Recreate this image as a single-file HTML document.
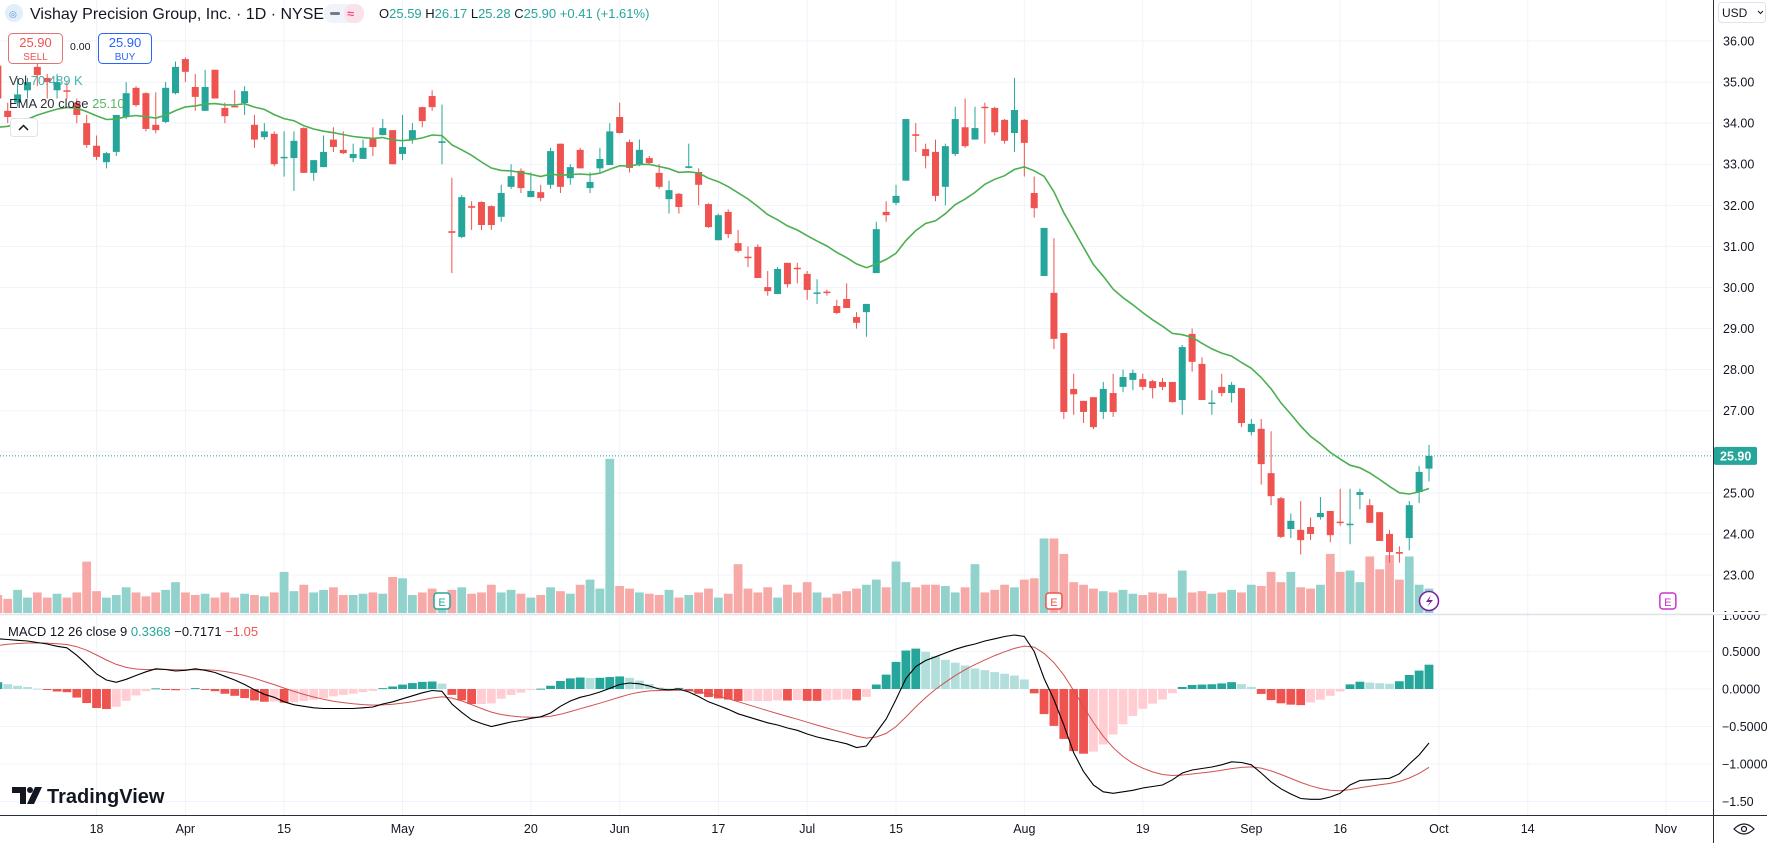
<!DOCTYPE html>
<html><head><meta charset="utf-8">
<style>
html,body{margin:0;padding:0;background:#fff;}
svg{display:block;font-family:"Liberation Sans",sans-serif;}
</style></head>
<body>
<svg id="chart" width="1767" height="843" viewBox="0 0 1767 843" xmlns="http://www.w3.org/2000/svg">
<rect x="0" y="0" width="1767" height="843" fill="#ffffff"/>
<g id="grid"></g>
<g id="volume"></g>
<g id="candles"></g>
<g id="ema"></g>
<g id="macd"></g>
<g id="axes"></g>

<!-- header -->
<g>
  <circle cx="14" cy="13" r="9" fill="#e3eefb"/>
  <text x="9" y="17" font-size="9" fill="#5b8fd6">◎</text>
  <text x="30" y="19" font-size="16" fill="#131722">Vishay Precision Group, Inc. · 1D · NYSE</text>
  <rect x="324" y="4" width="40" height="19" rx="9" fill="#f0f3fa"/>
  <rect x="344" y="4" width="20" height="19" rx="9" fill="#fbe1ea"/>
  <rect x="330" y="12" width="10" height="3" rx="1.5" fill="#787b86"/>
  <text x="347" y="18" font-size="13" fill="#e91e63">≈</text>
  <text x="379" y="18" font-size="13" fill="#131722">O<tspan fill="#26a69a">25.59</tspan> H<tspan fill="#26a69a">26.17</tspan> L<tspan fill="#26a69a">25.28</tspan> C<tspan fill="#26a69a">25.90</tspan> <tspan fill="#26a69a">+0.41 (+1.61%)</tspan></text>
</g>
<g>
  <rect x="8.5" y="33.5" width="54" height="30" rx="4" fill="#fff" stroke="#e57373"/>
  <text x="35.5" y="47" font-size="13" fill="#ef5350" text-anchor="middle">25.90</text>
  <text x="35.5" y="60" font-size="10" fill="#ef5350" text-anchor="middle">SELL</text>
</g>
<text x="70" y="50" font-size="10.5" fill="#131722">0.00</text>
<g>
  <rect x="98.5" y="33.5" width="53" height="30" rx="4" fill="#fff" stroke="#2962ff"/>
  <text x="125" y="47" font-size="13" fill="#2962ff" text-anchor="middle">25.90</text>
  <text x="125" y="60" font-size="10" fill="#2962ff" text-anchor="middle">BUY</text>
</g>
<text x="9" y="85" font-size="13" fill="#131722" opacity="0.85">Vol <tspan fill="#26a69a">70.489 K</tspan></text>
<text x="9" y="108" font-size="13" fill="#131722" opacity="0.9">EMA 20 close <tspan fill="#4caf50">25.10</tspan></text>
<g>
  <rect x="10.5" y="118.5" width="27" height="18" rx="3" fill="#fff" stroke="#e0e3eb"/>
  <path d="M19 130 L23.5 125.5 L28 130" fill="none" stroke="#131722" stroke-width="1.5"/>
</g>
<text x="8" y="636" font-size="13" fill="#131722">MACD 12 26 close 9 <tspan fill="#26a69a">0.3368</tspan> <tspan fill="#131722">−0.7171</tspan> <tspan fill="#ef5350">−1.05</tspan></text>
<g>
  <path d="M12 787 H26 V804 H20 V793 H12 Z" fill="#131722"/>
  <circle cx="30" cy="790" r="3" fill="#131722"/>
  <path d="M35 787 H42 L34 804 H27 Z" fill="#131722"/>
  <text x="47" y="803" font-size="20" font-weight="bold" fill="#131722">TradingView</text>
</g>
<g>
  <rect x="1718.5" y="2.5" width="47" height="20" rx="3" fill="#fff" stroke="#e0e3eb"/>
  <text x="1722" y="17" font-size="12" fill="#131722">USD</text>
  <path d="M1758 11 l2.5 2.5 l2.5 -2.5" fill="none" stroke="#131722"/>
</g>
<g>
  <path d="M1734 829 Q1744 819 1754 829 Q1744 839 1734 829 Z" fill="none" stroke="#131722" stroke-width="1.2"/>
  <circle cx="1744" cy="829" r="2.5" fill="none" stroke="#131722" stroke-width="1.2"/>
</g>

<script>
// ---- data ----
const opens  = [35.4,34.3,34.5,34.8,35.37,35.1,34.8,34.8,34.5,34.0,33.45,33.05,33.3,34.15,34.86,34.73,33.96,34.03,34.73,35.56,34.88,34.3,35.3,34.37,34.42,34.49,33.96,33.66,33.74,33.15,33.15,33.88,32.79,32.93,33.6,33.35,33.15,33.13,33.64,33.71,33.83,33.25,33.6,34.39,34.66,33.52,31.37,31.23,31.98,32.08,31.98,31.72,32.45,32.84,32.2,32.32,32.5,33.5,32.66,33.35,32.42,32.9,32.98,34.15,33.54,32.98,33.15,32.79,32.15,32.28,32.91,32.81,32.03,31.15,31.84,31.08,30.75,30.99,30.01,29.84,30.6,30.48,30.33,29.86,29.9,29.55,29.72,29.28,29.4,30.35,31.84,32.06,32.6,33.73,33.37,33.3,32.45,33.25,33.9,33.6,34.4,34.37,34.08,33.76,34.08,32.3,30.28,29.87,28.89,27.53,27.24,27.33,26.97,27.43,27.58,27.75,27.77,27.72,27.7,27.7,27.26,28.87,28.14,27.18,27.58,27.43,27.55,26.48,26.56,25.48,24.87,24.12,24.1,24.17,24.41,24.56,24.3,24.23,24.95,24.7,24.53,24.0,23.56,23.9,25.02,25.59];
const highs  = [35.6,34.5,35.1,35.1,35.5,35.2,35.2,35.0,34.6,34.2,33.7,33.3,34.2,35.0,34.9,34.75,34.75,35.0,35.5,35.6,35.2,35.3,35.3,34.5,34.8,34.9,34.2,34.0,33.8,33.8,33.8,33.9,33.1,33.7,33.9,33.8,33.5,33.6,33.9,34.1,33.83,34.2,34.0,34.4,34.8,34.45,32.67,32.25,32.1,32.1,32.0,32.5,33.0,32.9,32.8,32.5,33.4,33.5,33.0,33.4,32.8,33.4,34.0,34.5,33.6,33.6,33.2,33.0,32.6,32.3,33.5,32.9,32.05,31.8,31.9,31.4,31.0,31.05,30.4,30.5,30.6,30.6,30.4,30.2,29.95,29.7,30.1,29.4,29.6,31.6,32.1,32.5,34.1,34.0,33.5,33.6,33.5,34.4,34.6,34.4,34.5,34.4,34.1,35.1,34.1,32.7,31.45,31.2,28.89,27.9,27.24,27.33,27.7,27.9,28.0,28.0,27.9,27.75,27.8,27.7,28.6,29.0,28.3,27.5,27.9,27.7,27.55,26.8,26.8,26.5,24.9,24.5,24.8,24.4,24.9,24.56,25.1,25.1,25.1,24.85,24.53,24.1,23.7,24.8,25.65,26.17];
const lows   = [34.4,34.0,34.4,34.6,34.9,34.6,34.6,34.6,34.0,33.4,33.1,32.9,33.2,34.1,34.4,33.8,33.75,34.0,34.7,35.0,34.3,34.3,34.6,34.0,34.4,34.2,33.4,33.6,32.95,32.7,32.35,32.79,32.6,32.93,33.3,33.25,33.05,33.13,33.2,33.7,33.0,33.1,33.5,33.9,34.3,33.0,30.35,31.2,31.4,31.4,31.4,31.6,32.4,32.3,32.2,32.1,32.4,32.3,32.5,32.9,32.3,32.8,32.98,33.75,32.8,32.95,33.0,32.4,31.8,31.8,32.9,32.0,31.45,31.15,31.2,30.85,30.5,30.23,29.8,29.84,30.0,30.1,29.7,29.6,29.8,29.35,29.5,29.0,28.8,30.35,31.6,32.0,32.6,33.3,32.9,32.1,32.0,33.2,33.4,33.6,33.5,33.7,33.5,33.3,32.7,31.7,30.28,28.5,26.8,26.9,26.7,26.55,26.8,26.85,27.45,27.5,27.5,27.3,27.5,27.2,26.9,27.95,27.26,26.9,27.35,27.2,26.6,26.4,25.2,24.7,23.9,23.9,23.5,23.85,24.35,23.8,24.2,23.75,24.6,24.27,23.83,23.3,23.3,23.6,24.75,25.28];
const closes = [34.6,34.15,34.7,35.0,35.17,35.0,35.0,34.78,34.2,33.47,33.18,33.27,34.2,34.73,34.44,33.86,33.83,34.86,35.37,35.25,34.64,34.88,34.6,34.17,34.4,34.78,33.6,33.8,33.0,33.18,33.57,32.79,33.1,33.3,33.42,33.27,33.25,33.4,33.42,33.88,33.0,33.42,33.83,34.05,34.39,33.56,31.33,32.2,31.94,31.52,31.52,32.3,32.71,32.42,32.35,32.18,33.32,32.45,32.93,32.9,32.57,33.13,33.8,33.76,32.91,33.35,33.03,32.45,32.37,31.96,32.95,32.5,31.47,31.76,31.3,30.89,30.72,30.23,29.91,30.45,30.08,30.46,29.94,29.88,29.88,29.38,29.5,29.14,29.6,31.42,31.76,32.23,34.1,33.69,33.2,32.23,33.44,34.1,33.44,33.88,34.38,33.78,33.57,34.32,33.52,31.93,31.45,28.75,26.97,27.4,26.97,26.6,27.53,26.97,27.82,27.92,27.58,27.55,27.58,27.21,28.55,28.19,27.26,27.2,27.43,27.63,26.7,26.68,25.7,24.92,23.93,24.32,23.85,24.0,24.51,23.97,24.28,24.25,25.02,24.27,23.83,23.56,23.52,24.7,25.51,25.90];
const volumesK = [70,55,90,60,80,60,75,60,80,200,85,60,70,100,80,65,80,90,120,80,70,75,60,80,60,75,70,65,80,160,85,110,80,90,100,70,70,75,80,75,140,135,70,80,95,70,90,100,75,80,110,80,90,75,60,70,100,85,75,110,130,95,600,105,95,80,75,70,90,60,70,80,95,60,75,190,95,80,100,60,110,80,120,80,60,75,85,95,110,130,100,200,120,100,110,110,105,80,100,190,80,90,110,100,130,135,290,290,230,120,110,95,85,80,90,75,70,80,75,60,165,80,85,75,80,90,80,110,105,160,120,160,100,95,110,230,160,165,120,220,170,225,130,220,110,95];
const macdLine = [0.67,0.66,0.65,0.64,0.62,0.60,0.57,0.55,0.45,0.33,0.20,0.12,0.09,0.13,0.18,0.23,0.27,0.26,0.24,0.25,0.27,0.25,0.22,0.17,0.12,0.06,-0.01,-0.07,-0.11,-0.17,-0.21,-0.23,-0.25,-0.26,-0.26,-0.26,-0.26,-0.25,-0.24,-0.20,-0.17,-0.13,-0.09,-0.05,-0.02,-0.03,-0.20,-0.31,-0.41,-0.46,-0.50,-0.47,-0.44,-0.42,-0.39,-0.37,-0.32,-0.23,-0.16,-0.11,-0.08,-0.04,0.01,0.06,0.08,0.07,0.04,0.00,-0.01,0.00,-0.04,-0.10,-0.17,-0.22,-0.27,-0.33,-0.37,-0.41,-0.45,-0.48,-0.52,-0.55,-0.60,-0.64,-0.67,-0.70,-0.73,-0.78,-0.76,-0.58,-0.40,-0.14,0.14,0.30,0.38,0.43,0.48,0.53,0.57,0.60,0.64,0.67,0.70,0.72,0.70,0.50,0.14,-0.14,-0.48,-0.85,-1.10,-1.28,-1.37,-1.39,-1.37,-1.35,-1.32,-1.30,-1.28,-1.21,-1.12,-1.08,-1.06,-1.04,-1.01,-0.97,-0.98,-1.01,-1.12,-1.24,-1.33,-1.40,-1.46,-1.47,-1.47,-1.44,-1.39,-1.28,-1.22,-1.21,-1.20,-1.19,-1.13,-1.00,-0.88,-0.72];
const priceTicks = [36,35,34,33,32,31,30,29,28,27,26,25,24,23];
const macdTicks = [1.0,0.5,0.0,-0.5,-1.0,-1.5];
const macdTickLabels = ["1.0000","0.5000","0.0000","−0.5000","−1.0000","−1.50"];
const timeLabels = ["18","Apr","15","May","20","Jun","17","Jul","15","Aug","19","Sep","16","Oct","14","Nov"];
const timeLabelIdx = [10,19,29,41,54,63,73,82,91,104,116,127,136,146,155,169];
const emaSeed = 33.9;
const signalSeed = 0.58;
const lastPrice = 25.90;

// ---- scales ----
const NS = "http://www.w3.org/2000/svg";
const plotRight = 1713;
const barStep = 9.87;
const lastIdx = closes.length - 1;
function xOf(i){ return 1429 - (lastIdx - i) * barStep; }
function yP(p){ return 41 + (36 - p) * 41.08; }
function yM(v){ return 689 - v * 75; }
const volBase = 613, volScale = 0.257;
function el(tag, attrs, parent){ const e = document.createElementNS(NS, tag); for (const k in attrs) e.setAttribute(k, attrs[k]); parent.appendChild(e); return e; }

const grid = document.getElementById('grid');
priceTicks.forEach(p => {
  const l = el('line', {x1:0, x2:plotRight, y1:yP(p), y2:yP(p), stroke:'#f0f3fa', 'stroke-width':1}, grid);
  
  
});
macdTicks.forEach(v => {
  const l = el('line', {x1:0, x2:plotRight, y1:yM(v), y2:yM(v), stroke:'#f0f3fa', 'stroke-width':1}, grid);
  
  
});
timeLabelIdx.forEach(i => {
  const l = el('line', {x1:xOf(i), x2:xOf(i), y1:0, y2:815, stroke:'#f0f3fa', 'stroke-width':1}, grid);
  
  
});

// volume
const vg = document.getElementById('volume');
volumesK.forEach((v, i) => {
  const up = closes[i] >= opens[i];
  const h = v * volScale;
  const r = el('rect', {x:xOf(i)-4.4, y:volBase-h, width:8.8, height:h, fill: up ? '#92d2cc' : '#f7a9a7'}, vg);
  
  
});

// candles
const cg = document.getElementById('candles');
closes.forEach((c, i) => {
  const o = opens[i], up = c >= o, col = up ? '#26a69a' : '#ef5350';
  const x = xOf(i);
  const g = el('g', {}, cg);
  
  
  el('line', {x1:x, x2:x, y1:yP(highs[i]), y2:yP(lows[i]), stroke:col, 'stroke-width':1}, g);
  const top = yP(Math.max(o,c)), bot = yP(Math.min(o,c));
  el('rect', {x:x-3.5, y:top, width:7, height:Math.max(1.5, bot-top), fill:col}, g);
});

// EMA 20
const eg = document.getElementById('ema');
let ema = emaSeed; const emaPts = [];
closes.forEach((c, i) => { if (i > 0) ema = ema + (2/21) * (c - ema); emaPts.push(xOf(i).toFixed(1) + ',' + yP(ema).toFixed(1)); });
const emaPath = el('polyline', {points: emaPts.join(' '), fill:'none', stroke:'#4caf50', 'stroke-width':1.6}, eg);



// markers
function marker(i, color, label){
  const g = el('g', {}, vg);
  
  
  el('rect', {x:xOf(i)-8, y:593, width:16, height:16, rx:3, fill:'#fff', stroke:color, 'stroke-width':1.5}, g);
  const t = el('text', {x:xOf(i), y:606, 'font-size':11, fill:color, 'text-anchor':'middle'}, g);
  t.textContent = label;
}
marker(45, '#26a69a', 'E');
marker(107, '#ef5350', 'E');
marker(169.2, '#cc33cc', 'E');
const lz = el('g', {}, vg);


el('circle', {cx:1429, cy:601, r:9.5, fill:'#fff', stroke:'#7b1fa2', 'stroke-width':1.5}, lz);
el('path', {d:'M1431 595 L1426 602 L1430 602 L1427 607 L1433 600 L1429 600 Z', fill:'#7b1fa2'}, lz);

// current price dotted line
const pl = el('line', {x1:0, x2:plotRight, y1:yP(lastPrice), y2:yP(lastPrice), stroke:'#26a69a', 'stroke-width':1, 'stroke-dasharray':'1,2'}, eg);



// MACD
const mg = document.getElementById('macd');
let sig = signalSeed; const sigArr = [];
macdLine.forEach((m, i) => { if (i > 0) sig = sig + 0.2 * (m - sig); sigArr.push(sig); });
let prevH = null;
macdLine.forEach((m, i) => {
  const h = m - sigArr[i];
  let col;
  if (h >= 0) col = (prevH === null || h >= prevH) ? '#26a69a' : '#b2dfdb';
  else col = (prevH === null || h <= prevH) ? '#ef5350' : '#ffcdd2';
  prevH = h;
  const y0 = yM(0), y1 = yM(h);
  const r = el('rect', {x:xOf(i)-4.4, y:Math.min(y0,y1), width:8.8, height:Math.max(1, Math.abs(y1-y0)), fill:col}, mg);
  
  
});
const sl = el('polyline', {points: sigArr.map((s,i)=>xOf(i).toFixed(1)+','+yM(s).toFixed(1)).join(' '), fill:'none', stroke:'#d0524f', 'stroke-width':1}, mg);


const ml = el('polyline', {points: macdLine.map((m,i)=>xOf(i).toFixed(1)+','+yM(m).toFixed(1)).join(' '), fill:'none', stroke:'#000', 'stroke-width':1.1}, mg);



// axes
const ax = document.getElementById('axes');
el('rect', {x:plotRight, y:0, width:1767-plotRight, height:843, fill:'#fff'}, ax);
el('rect', {x:0, y:815, width:1767, height:28, fill:'#fff'}, ax);
el('line', {x1:plotRight+0.5, x2:plotRight+0.5, y1:0, y2:843, stroke:'#2a2e39', 'stroke-width':1}, ax);
el('line', {x1:0, x2:1767, y1:815.5, y2:815.5, stroke:'#2a2e39', 'stroke-width':1}, ax);
el('line', {x1:0, x2:1767, y1:614.5, y2:614.5, stroke:'#e0e3eb', 'stroke-width':1.5}, ax);
priceTicks.forEach(p => {
  const t = el('text', {x:1723, y:yP(p)+4.5, 'font-size':12.5, fill:'#131722'}, ax);
  
  
  t.textContent = p.toFixed(2);
});
macdTicks.forEach((v, k) => {
  const y = k === 0 ? 620 : yM(v) + 4.5;
  const t = el('text', {x:1722, y:y, 'font-size':12.5, fill:'#131722'}, ax);
  
  
  t.textContent = macdTickLabels[k];
});
el('rect', {x:plotRight, y:612, width:54, height:2, fill:'#fff'}, ax);
el('line', {x1:plotRight, x2:1767, y1:614.5, y2:614.5, stroke:'#e0e3eb', 'stroke-width':1}, ax);
timeLabels.forEach((lab, k) => {
  const t = el('text', {x:xOf(timeLabelIdx[k]), y:833, 'font-size':12.5, fill:'#131722', 'text-anchor':'middle'}, ax);
  
  
  t.textContent = lab;
});
const badge = el('g', {}, ax);


el('rect', {x:plotRight+1, y:yP(lastPrice)-9, width:43, height:18, rx:2, fill:'#26a69a'}, badge);
const bt = el('text', {x:1720, y:yP(lastPrice)+4.5, 'font-size':12.5, 'font-weight':'bold', fill:'#fff'}, badge);
bt.textContent = lastPrice.toFixed(2);
</script>
</svg>
</body></html>
